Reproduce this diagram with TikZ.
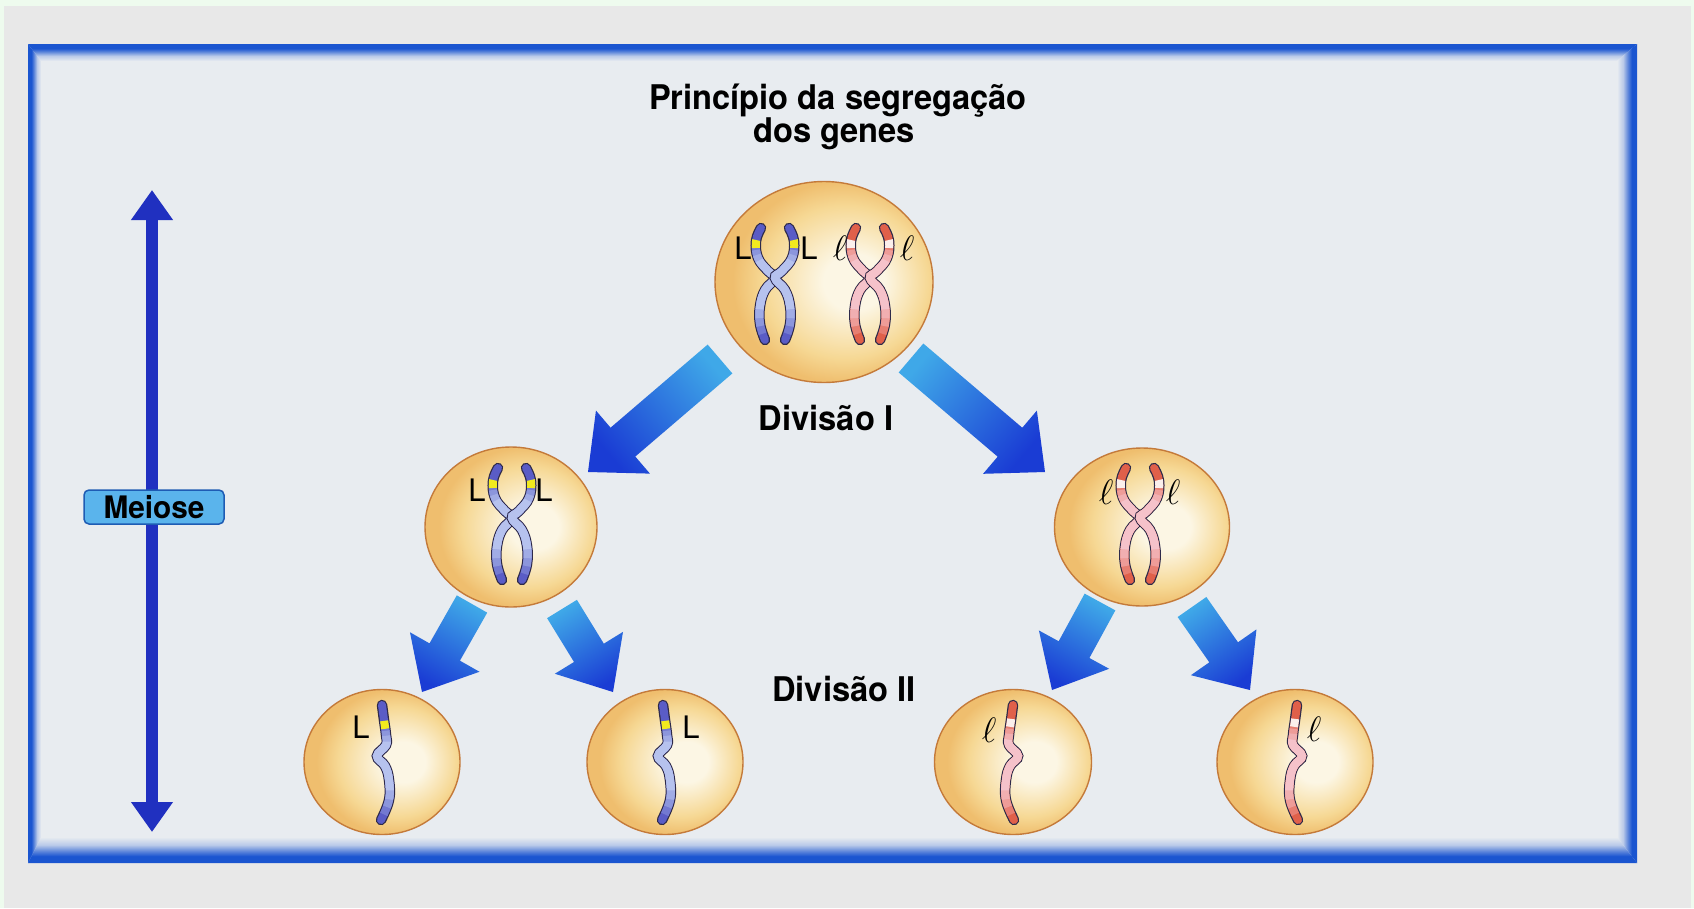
\documentclass[tikz,border=0pt]{standalone}
\usepackage{fontspec}
\usepackage{graphicx}
\usetikzlibrary{shapes.geometric,arrows.meta,calc}

\newfontfamily\headfont[FakeStretch=0.96]{TeX Gyre Heros}
\newfontfamily\genefont{TeX Gyre Heros}

% page and frame
\definecolor{pagegreen}{HTML}{EEFBEE}
\definecolor{pagegray}{HTML}{E8E8E8}
\definecolor{panel}{HTML}{E8ECF0}
\definecolor{frameblue}{HTML}{1A55D0}
% meiosis axis and tag
\definecolor{meioseblue}{HTML}{2030C0}
\definecolor{tagfill}{HTML}{5AB4EC}
\definecolor{tagedge}{HTML}{1E5CB4}
% block arrows
\definecolor{arrlight}{HTML}{3FA8E8}
\definecolor{arrdark}{HTML}{1A3CD4}
% cells
\definecolor{cellhi}{HTML}{FCF6E4}
\definecolor{cellmid}{HTML}{F6D894}
\definecolor{cellrim}{HTML}{EFBE6E}
\definecolor{celledge}{HTML}{C47A3A}
% chromosomes
\definecolor{chromline}{HTML}{2E2A4A}
\definecolor{bluedark}{HTML}{5A5CC6}
\definecolor{bluemid}{HTML}{8C96DC}
\definecolor{bluelight}{HTML}{B6C2EE}
\definecolor{reddark}{HTML}{E0604A}
\definecolor{redmid}{HTML}{EE9C98}
\definecolor{redlight}{HTML}{F5C2CA}
\definecolor{bandyellow}{HTML}{F2EA1E}
\definecolor{bandwhite}{HTML}{FBEFEC}

\pgfdeclareradialshading{cellshade}{\pgfpoint{8bp}{0bp}}{%
  color(0bp)=(cellhi); color(7bp)=(cellhi); color(19bp)=(cellmid);
  color(25bp)=(cellrim); color(50bp)=(cellrim)}

% blue edge fading into the panel (blue on the top side of the strip)
\pgfdeclareverticalshading{edgefade}{100bp}{%
  color(0bp)=(panel); color(25bp)=(panel); color(40bp)=(frameblue!22!panel);
  color(53bp)=(frameblue!70!panel); color(62bp)=(frameblue); color(100bp)=(frameblue)}

\tikzset{
  cell/.style={ellipse, draw=celledge, line width=1.4pt, shade, shading=cellshade, inner sep=0pt},
  edge/.style={shade, shading=edgefade, shading angle=#1},
  heading/.style={font=\headfont\bfseries\fontsize{34}{34}\selectfont, inner sep=0pt, anchor=base},
  geneL/.style={font=\genefont\fontsize{31}{31}\selectfont, inner sep=0pt},
  geneell/.style={inner sep=0pt},
  tag/.style={draw=tagedge, fill=tagfill, line width=1.5pt, rounded corners=5pt,
    minimum width=140pt, minimum height=34pt, inner sep=0pt,
    font=\headfont\bfseries\fontsize{31}{31}\selectfont},
  meiosearrow/.style={draw=meioseblue, line width=12pt,
    >={Triangle[width=40pt,length=30pt]}, <->},
}

% a coloured stretch of a chromatid: #1 points, #2 colour, #3 start, #4 length
\newcommand\chromlayer[4]{%
  \draw[#2, line width=8pt, dash pattern=on 0pt off #3pt on #4pt off 600pt]
    plot[smooth, tension=0.7] coordinates {#1};
}

% one chromatid: #1 points, #2 colour prefix, #3 band colour, #4 band start, #5 path length
\newcommand\chromatid[5]{%
  \draw[chromline, line width=10.5pt, line cap=round] plot[smooth, tension=0.7] coordinates {#1};
  \draw[#2dark, line width=8pt, line cap=round] plot[smooth, tension=0.7] coordinates {#1};
  \pgfmathsetmacro\ls{#4+6}\pgfmathsetmacro\ll{#5-6-\ls}%
  \chromlayer{#1}{#2dark!50!#2mid}{\ls}{\ll}
  \pgfmathsetmacro\ls{#4+10}\pgfmathsetmacro\ll{#5-14-\ls}%
  \chromlayer{#1}{#2mid}{\ls}{\ll}
  \pgfmathsetmacro\ls{#4+15}\pgfmathsetmacro\ll{#5-22-\ls}%
  \chromlayer{#1}{#2mid!50!#2light}{\ls}{\ll}
  \pgfmathsetmacro\ls{#4+21}\pgfmathsetmacro\ll{#5-31-\ls}%
  \chromlayer{#1}{#2light}{\ls}{\ll}
  \chromlayer{#1}{#3}{#4}{8}
}

% duplicated chromosome (two chromatids): #1 centre, #2 colour prefix, #3 band colour
\newcommand\xchrom[3]{%
  \begin{scope}[shift={#1}]
    \chromatid{(-14,-50) (-19,-37) (-17,-20) (-7,-7) (0,0) (-10,12) (-15,28) (-15,46) (-10,62)}{#2}{#3}{13}{125}
    \chromatid{(14,-50) (19,-37) (17,-20) (7,-7) (0,0) (10,12) (15,28) (15,46) (10,62)}{#2}{#3}{13}{125}
  \end{scope}}

% single chromatid: #1 centre, #2 colour prefix, #3 band colour, #4 mirror (1 or -1), #5 band start
\newcommand\singlechrom[5]{%
  \begin{scope}[shift={#1}, xscale=#4]
    \chromatid{(0,-57) (2,-42) (4,-27) (4,-17) (-5,-6) (3,4) (7,18) (7,38) (-1,58)}{#2}{#3}{#5}{124}
  \end{scope}}

% broad gradient arrow: #1 tail, #2 tip, #3 shaft half width, #4 head half width, #5 head length
\newcommand\blockarrow[5]{%
  \pgfpointanchor{#1}{center}\pgfgetlastxy{\tailx}{\taily}%
  \pgfpointanchor{#2}{center}\pgfgetlastxy{\tipx}{\tipy}%
  \pgfmathsetmacro\shadeang{atan2((\taily)-(\tipy),(\tailx)-(\tipx))-90}%
  \coordinate (#1-base) at ($(#2)!#5pt!(#1)$);
  \shade[top color=arrlight, bottom color=arrdark, shading angle=\shadeang]
    ($(#1)!#3pt!90:(#2)$) -- ($(#1-base)!#3pt!90:(#2)$) -- ($(#1-base)!#4pt!90:(#2)$)
    -- (#2) -- ($(#1-base)!#4pt!-90:(#2)$) -- ($(#1-base)!#3pt!-90:(#2)$)
    -- ($(#1)!#3pt!-90:(#2)$) -- cycle;
}

\newcommand\ellmark{\scalebox{1.42}{\fontsize{24.88}{26}\selectfont$\ell$}}

\begin{document}
\begin{tikzpicture}[x=1pt,y=-1pt]
\useasboundingbox (0,0) rectangle (1694,908);

% page and panel
\fill[pagegreen] (0,0) rectangle (1694,908);
\fill[pagegray] (4,6) rectangle (1691,908);
\fill[panel] (28,44) rectangle (1637,863);
% fading blue edge of the panel, one mitred strip per side
\path[edge=0]   (28,44) -- (1637,44) -- (1617,61) -- (41,61) -- cycle;
\path[edge=180] (28,863) -- (1637,863) -- (1617,837) -- (41,837) -- cycle;
\path[edge=90]  (28,44) -- (41,61) -- (41,837) -- (28,863) -- cycle;
\path[edge=-90] (1637,44) -- (1617,61) -- (1617,837) -- (1637,863) -- cycle;

% meiosis axis
\coordinate (mtop) at (152,190);
\coordinate (mbot) at (152,832);
\draw[meiosearrow] (mtop) -- (mbot);
\node[tag] (meiose) at (154,507) {Meiose};

% first division arrows
\coordinate (a1) at (720,359); \coordinate (a1tip) at (588,472);
\coordinate (a2) at (911,358); \coordinate (a2tip) at (1045,472);
\blockarrow{a1}{a1tip}{19}{41.5}{46}
\blockarrow{a2}{a2tip}{19}{41.5}{46}

% second division arrows
\coordinate (b1) at (472,604);  \coordinate (b1tip) at (422,692);
\coordinate (b2) at (562,609);  \coordinate (b2tip) at (613,692);
\coordinate (b3) at (1100,602); \coordinate (b3tip) at (1052,690);
\coordinate (b4) at (1192,607); \coordinate (b4tip) at (1250,690);
\blockarrow{b1}{b1tip}{17.5}{40}{46}
\blockarrow{b2}{b2tip}{17.5}{40}{46}
\blockarrow{b3}{b3tip}{17.5}{40}{46}
\blockarrow{b4}{b4tip}{17.5}{40}{46}

% cells
\node[cell, minimum width=218pt, minimum height=201pt] (c0) at (824,282) {};
\node[cell, minimum width=172pt, minimum height=160pt] (c1l) at (511,527) {};
\node[cell, minimum width=175pt, minimum height=158pt] (c1r) at (1142,527) {};
\node[cell, minimum width=156pt, minimum height=145pt] (c2a) at (382,762) {};
\node[cell, minimum width=156pt, minimum height=145pt] (c2b) at (665,762) {};
\node[cell, minimum width=157pt, minimum height=145pt] (c2c) at (1013,762) {};
\node[cell, minimum width=156pt, minimum height=145pt] (c2d) at (1295,762) {};

% chromosomes
\xchrom{(775,278)}{blue}{bandyellow}
\xchrom{(870,278)}{red}{bandwhite}
\xchrom{(512,518)}{blue}{bandyellow}
\xchrom{(1140,518)}{red}{bandwhite}
\singlechrom{(382,762)}{blue}{bandyellow}{1}{16}
\singlechrom{(663,762)}{blue}{bandyellow}{1}{16}
\singlechrom{(1013,762)}{red}{bandwhite}{-1}{14}
\singlechrom{(1297,762)}{red}{bandwhite}{-1}{14}

% allele labels
\node[geneL] (g0a) at (743,248) {L};
\node[geneL] (g0b) at (809,248) {L};
\node[geneell] (g0c) at (840,248) {\ellmark};
\node[geneell] (g0d) at (907,248) {\ellmark};
\node[geneL] (g1a) at (477,490) {L};
\node[geneL] (g1b) at (544,490) {L};
\node[geneell] (g1c) at (1106,492) {\ellmark};
\node[geneell] (g1d) at (1173,492) {\ellmark};
\node[geneL] (g2a) at (361,727) {L};
\node[geneL] (g2b) at (691,727) {L};
\node[geneell] (g2c) at (989,730) {\ellmark};
\node[geneell] (g2d) at (1314,729) {\ellmark};

% headings
\node[heading] (title1) at (838,109) {Princípio da segregação};
\node[heading] (title2) at (834,142) {dos genes};
\node[heading] (div1) at (826,430) {Divisão I};
\node[heading] (div2) at (844,701) {Divisão II};
\end{tikzpicture}
\end{document}
